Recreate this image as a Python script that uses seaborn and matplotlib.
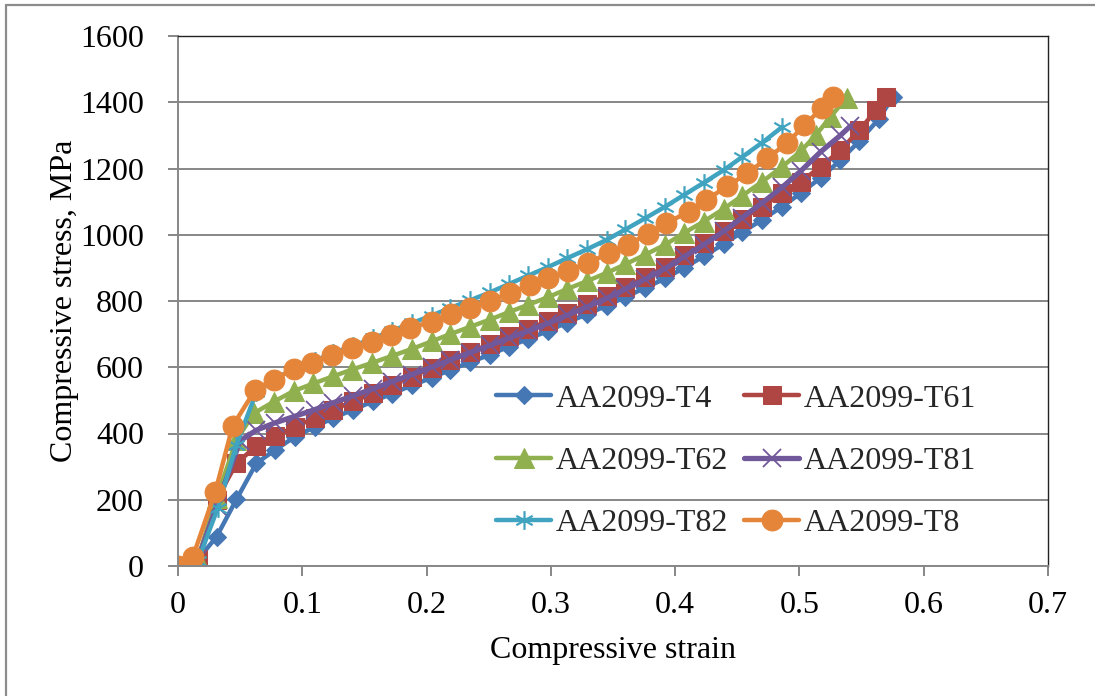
import numpy as np
import pandas as pd
import matplotlib
matplotlib.use("Agg")
import matplotlib.pyplot as plt
from matplotlib.path import Path
from matplotlib.lines import Line2D
import seaborn as sns

# ---- data: compressive strain / stress (MPa) for each temper ----
labels = ["AA2099-T4", "AA2099-T61", "AA2099-T62", "AA2099-T81", "AA2099-T82", "AA2099-T8"]

t4_strain = [0, 0.016, 0.031, 0.047, 0.063, 0.078, 0.094, 0.110, 0.125, 0.141, 0.157, 0.172,
             0.188, 0.204, 0.219, 0.235, 0.251, 0.266, 0.282, 0.298, 0.313, 0.329, 0.345,
             0.360, 0.376, 0.392, 0.407, 0.423, 0.439, 0.454, 0.470, 0.486, 0.501, 0.517,
             0.533, 0.548, 0.564, 0.575]
t4_stress = [0, 20, 88, 201, 310, 350, 390, 420, 447, 472, 497, 520, 545, 568, 592, 615, 638,
             662, 686, 710, 735, 760, 786, 812, 840, 868, 900, 935, 972, 1008, 1045, 1085,
             1125, 1172, 1225, 1282, 1350, 1415]

t61_strain = [0, 0.016, 0.031, 0.047, 0.063, 0.078, 0.094, 0.110, 0.125, 0.141, 0.157, 0.172,
              0.188, 0.204, 0.219, 0.235, 0.251, 0.266, 0.282, 0.298, 0.313, 0.329, 0.345,
              0.360, 0.376, 0.392, 0.407, 0.423, 0.439, 0.454, 0.470, 0.486, 0.501, 0.517,
              0.533, 0.548, 0.562, 0.570]
t61_stress = [0, 20, 200, 310, 362, 392, 420, 447, 472, 497, 522, 547, 572, 598, 622, 646, 670,
              693, 716, 740, 765, 790, 816, 843, 872, 904, 938, 974, 1012, 1048, 1085, 1125,
              1160, 1205, 1255, 1315, 1377, 1416]

t62_strain = [0, 0.016, 0.031, 0.047, 0.061, 0.077, 0.093, 0.109, 0.125, 0.140, 0.156, 0.172,
              0.188, 0.204, 0.219, 0.235, 0.251, 0.266, 0.282, 0.298, 0.313, 0.329, 0.345,
              0.360, 0.376, 0.392, 0.407, 0.423, 0.439, 0.454, 0.470, 0.486, 0.501, 0.513,
              0.525, 0.538]
t62_stress = [0, 20, 205, 380, 461, 496, 528, 551, 573, 593, 613, 634, 655, 678, 700, 722, 744,
              766, 789, 812, 836, 860, 885, 911, 940, 970, 1005, 1040, 1078, 1118, 1160, 1205,
              1252, 1300, 1356, 1414]

t81_strain = [0, 0.016, 0.031, 0.050, 0.063, 0.078, 0.094, 0.110, 0.125, 0.141, 0.157, 0.172,
              0.188, 0.204, 0.219, 0.235, 0.251, 0.266, 0.282, 0.298, 0.313, 0.329, 0.345,
              0.360, 0.376, 0.392, 0.407, 0.423, 0.439, 0.454, 0.470, 0.486, 0.501, 0.517,
              0.533, 0.541]
t81_stress = [0, 20, 180, 378, 410, 432, 452, 472, 493, 514, 535, 556, 578, 600, 622, 644, 666,
              688, 710, 733, 757, 782, 808, 836, 866, 898, 933, 970, 1010, 1052, 1096, 1143,
              1192, 1250, 1300, 1328]

t82_strain = [0, 0.016, 0.032, 0.047, 0.063, 0.078, 0.094, 0.110, 0.125, 0.141, 0.157, 0.172,
              0.188, 0.204, 0.219, 0.235, 0.251, 0.266, 0.282, 0.298, 0.313, 0.329, 0.345,
              0.360, 0.376, 0.392, 0.407, 0.423, 0.439, 0.454, 0.470, 0.486]
t82_stress = [0, 15, 175, 365, 525, 565, 597, 620, 643, 665, 687, 710, 733, 756, 779, 802, 826,
              851, 877, 903, 929, 956, 985, 1016, 1050, 1085, 1120, 1157, 1195, 1235, 1278, 1325]

t8_strain = [0, 0.012, 0.030, 0.044, 0.062, 0.077, 0.093, 0.108, 0.124, 0.140, 0.156, 0.171,
             0.187, 0.204, 0.220, 0.235, 0.251, 0.267, 0.283, 0.298, 0.314, 0.330, 0.347,
             0.362, 0.378, 0.393, 0.411, 0.425, 0.442, 0.458, 0.474, 0.490, 0.504, 0.518,
             0.527]
t8_stress = [0, 28, 224, 423, 531, 563, 594, 614, 637, 657, 677, 697, 719, 738, 760, 780, 801,
             823, 848, 868, 891, 916, 944, 969, 1003, 1035, 1070, 1105, 1147, 1185, 1231, 1276,
             1331, 1382, 1415]

x_ticks = [0, 0.1, 0.2, 0.3, 0.4, 0.5, 0.6, 0.7]
x_tick_labels = ["0", "0.1", "0.2", "0.3", "0.4", "0.5", "0.6", "0.7"]
y_ticks = [0, 200, 400, 600, 800, 1000, 1200, 1400, 1600]

strains = [t4_strain, t61_strain, t62_strain, t81_strain, t82_strain, t8_strain]
stresses = [t4_stress, t61_stress, t62_stress, t81_stress, t82_stress, t8_stress]

frames = []
for name, sx, sy in zip(labels, strains, stresses):
    frames.append(pd.DataFrame({"strain": sx, "stress": sy, "alloy": name}))
df = pd.concat(frames, ignore_index=True)

# ---- styling ----
FS = 23
sns.set_theme(style="white")
plt.rcParams["font.family"] = ["Liberation Serif", "DejaVu Serif"]
plt.rcParams["font.size"] = FS

# asterisk marker: vertical bar plus two diagonals
ast_verts = [(0, -1), (0, 1), (-0.87, -0.5), (0.87, 0.5), (-0.87, 0.5), (0.87, -0.5)]
ast_codes = [Path.MOVETO, Path.LINETO] * 3
asterisk = Path(ast_verts, ast_codes)

colors = ["#4577B5", "#B04643", "#90B04F", "#71589A", "#40A3BF", "#E5853A"]
styles = [
    dict(marker="D", markersize=9.5),
    dict(marker="s", markersize=13),
    dict(marker="^", markersize=14),
    dict(marker="x", markersize=13.5, markeredgewidth=1.3),
    dict(marker=asterisk, markersize=13.5, markeredgewidth=1.6),
    dict(marker="o", markersize=15),
]
line_widths = [3.2, 3.2, 3.2, 3.8, 3.2, 3.2]

fig = plt.figure(figsize=(10.95, 6.96), dpi=100)
ax = fig.add_axes([178 / 1095, 130 / 696, 870 / 1095, 530 / 696])

for name, col, st, lw in zip(labels, colors, styles, line_widths):
    sub = df[df["alloy"] == name]
    sns.lineplot(data=sub, x="strain", y="stress", ax=ax, color=col, linewidth=lw,
                 markeredgecolor=col, markerfacecolor=col, sort=False,
                 estimator=None, label=name, **st)

ax.set_xlim(0, 0.7)
ax.set_ylim(0, 1600)
ax.set_xticks(x_ticks)
ax.set_xticklabels(x_tick_labels)
ax.set_yticks(y_ticks)

grid_col = "#878787"
ax.yaxis.grid(True, color=grid_col, linewidth=1.4)
ax.xaxis.grid(False)
ax.set_axisbelow(True)
for side in ["left", "bottom"]:
    ax.spines[side].set_color(grid_col)
    ax.spines[side].set_linewidth(1.4)
for side in ["top", "right"]:
    ax.spines[side].set_color("#222222")
    ax.spines[side].set_linewidth(1.0)
ax.tick_params(axis="both", which="major", direction="out", length=7, width=1.4,
               color=grid_col, labelsize=FS, labelcolor="black")
ax.tick_params(axis="y", pad=17.5, left=True)
ax.tick_params(axis="x", pad=11, bottom=True)

ax.set_xlabel("Compressive strain", fontsize=FS, color="black")
ax.set_ylabel("Compressive stress, MPa", fontsize=FS, color="black")
ax.xaxis.set_label_coords(0.5, -0.132)
ax.yaxis.set_label_coords(-0.114, 0.5)

# legend laid out row by row: two entries per row
handles, leg_labels = ax.get_legend_handles_labels()
order = [0, 2, 4, 1, 3, 5]
leg = ax.legend([handles[i] for i in order], [leg_labels[i] for i in order],
                loc="upper left", bbox_to_anchor=(0.366, 0.343), ncol=2, frameon=False,
                fontsize=FS, handlelength=1.72, handletextpad=0.14, columnspacing=0.5,
                labelspacing=1.03, borderpad=0, borderaxespad=0, numpoints=1)

# outer chart border (left and top edges)
fig.add_artist(Line2D([6 / 1095, 6 / 1095], [0, 1 - 5 / 696], transform=fig.transFigure,
                      color="#8c8c8c", linewidth=1.6))
fig.add_artist(Line2D([6 / 1095, 1], [1 - 5 / 696, 1 - 5 / 696], transform=fig.transFigure,
                      color="#8c8c8c", linewidth=1.6))

fig.savefig("out.png", dpi=100)
